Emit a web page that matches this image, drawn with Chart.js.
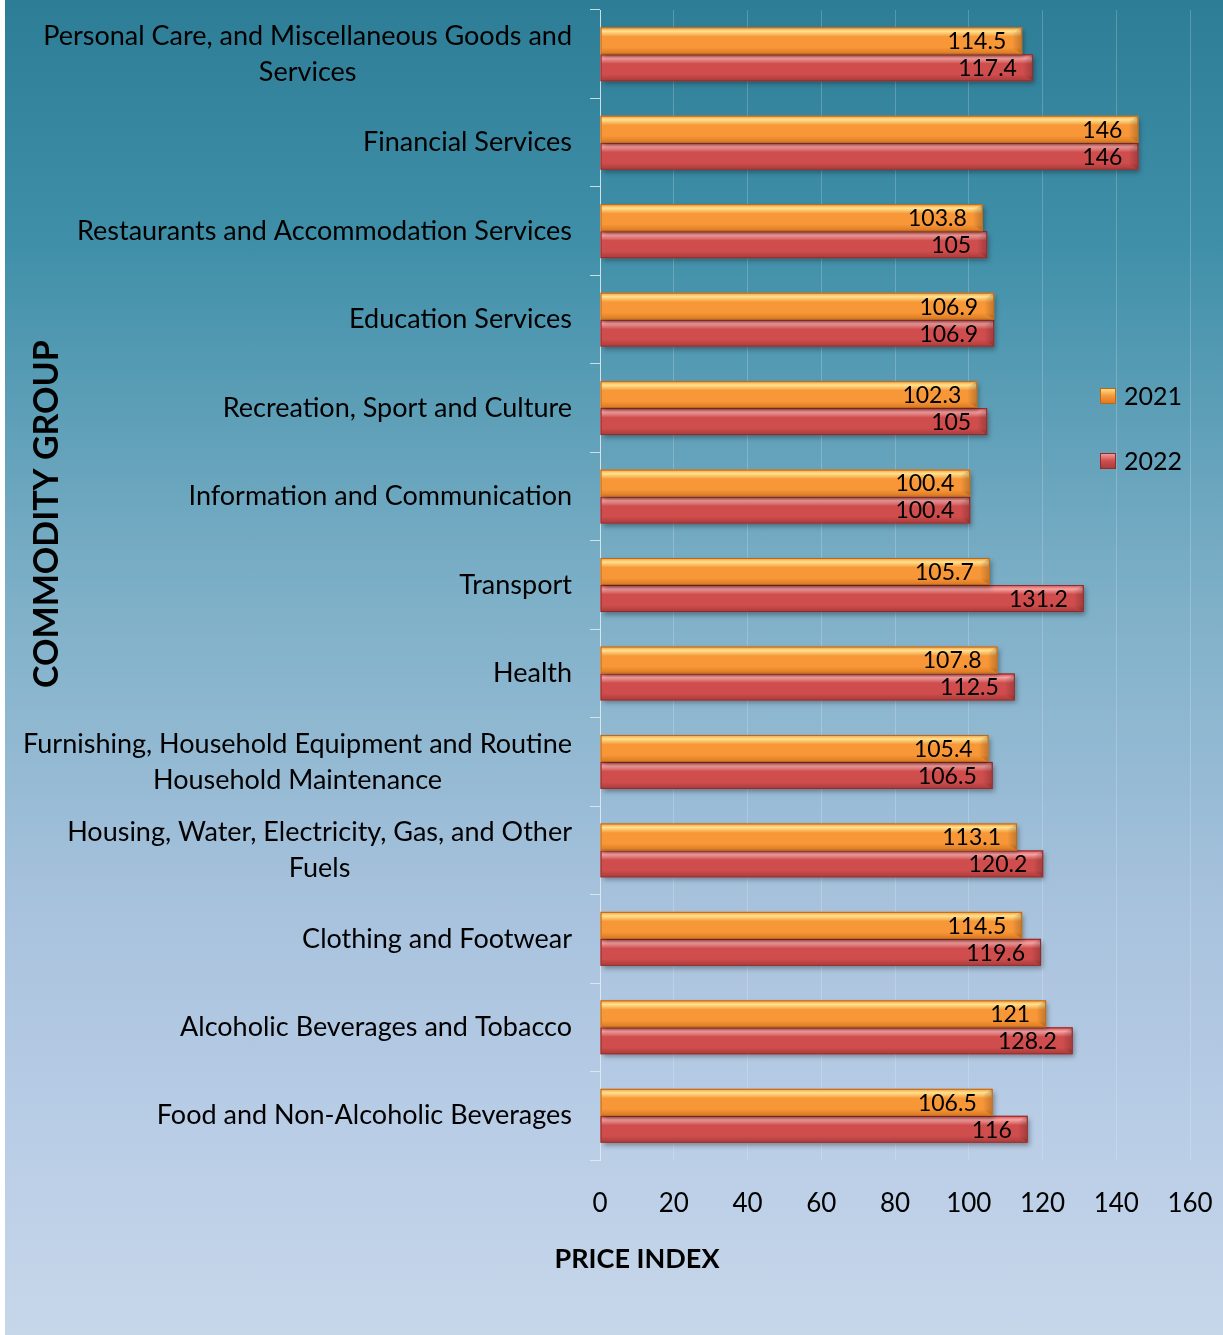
<!DOCTYPE html>
<html>
<head>
<meta charset="utf-8">
<script src="https://cdn.jsdelivr.net/npm/chart.js@4.4.1/dist/chart.umd.min.js"></script>
<style>
  html, body { margin: 0; padding: 0; background: #ffffff; }
  #wrap {
    position: absolute; left: 5px; top: 0; width: 1218px; height: 1335px;
    background: linear-gradient(to bottom, #2e7d97 0%, #3f8fa8 18%, #7eb0c8 45%, #a8c2dd 68%, #b9cde6 85%, #c7d7ea 100%);
  }
</style>
</head>
<body>
<div id="wrap"><canvas id="cpiChart"></canvas></div>
<script>
const categories = [
    ['Personal Care, and Miscellaneous Goods and', 'Services'],
    'Financial Services',
    'Restaurants and Accommodation Services',
    'Education Services',
    'Recreation, Sport and Culture',
    'Information and Communication',
    'Transport',
    'Health',
    ['Furnishing, Household Equipment and Routine', 'Household Maintenance'],
    ['Housing, Water, Electricity, Gas, and Other', 'Fuels'],
    'Clothing and Footwear',
    'Alcoholic Beverages and Tobacco',
    'Food and Non-Alcoholic Beverages'
];
const series2021 = [114.5, 146, 103.8, 106.9, 102.3, 100.4, 105.7, 107.8, 105.4, 113.1, 114.5, 121, 106.5];
const series2022 = [117.4, 146, 105, 106.9, 105, 100.4, 131.2, 112.5, 106.5, 120.2, 119.6, 128.2, 116];
const xTicks = [0, 20, 40, 60, 80, 100, 120, 140, 160];

const FONT = 'Lato, "Open Sans", sans-serif';

const palette = {
    '2021': { base: '#f79738', light: '#ffe38f', dark: '#d9771f', border: '#b8681c' },
    '2022': { base: '#cf4d4d', light: '#f7a3a3', dark: '#a83a3a', border: '#8c2c2c' }
};

// glossy overlay + bevelled end on each bar
const barShine = {
    id: 'barShine',
    beforeDatasetDraw(chart) {
        const ctx = chart.ctx;
        ctx.save();
        ctx.shadowColor = 'rgba(0,0,0,0.35)';
        ctx.shadowBlur = 5;
        ctx.shadowOffsetX = 2;
        ctx.shadowOffsetY = 3;
    },
    afterDatasetDraw(chart, args) {
        const ctx = chart.ctx;
        ctx.restore();
        const ds = chart.data.datasets[args.index];
        const pal = palette[ds.label];
        args.meta.data.forEach(el => {
            const top = el.y - el.height / 2;
            const left = el.base, right = el.x, h = el.height;
            const g = ctx.createLinearGradient(0, top, 0, top + h);
            g.addColorStop(0, pal.base);
            g.addColorStop(0.15, pal.light);
            g.addColorStop(0.35, pal.base);
            g.addColorStop(0.75, pal.base);
            g.addColorStop(1, pal.dark);
            ctx.save();
            ctx.fillStyle = g;
            ctx.fillRect(left + 1, top + 1, right - left - 2, h - 2);
            // bevelled right end
            const cap = 10;
            const gc = ctx.createLinearGradient(right - cap, 0, right, 0);
            gc.addColorStop(0, 'rgba(0,0,0,0)');
            gc.addColorStop(1, 'rgba(0,0,0,0.22)');
            ctx.beginPath();
            ctx.moveTo(right - cap, top + cap * 0.6);
            ctx.lineTo(right - 1, top + 1);
            ctx.lineTo(right - 1, top + h - 1);
            ctx.lineTo(right - cap, top + h - cap * 0.6);
            ctx.closePath();
            ctx.fillStyle = gc;
            ctx.fill();
            ctx.strokeStyle = pal.border;
            ctx.lineWidth = 1;
            ctx.strokeRect(left + 0.5, top + 0.5, right - left - 1, h - 1);
            ctx.restore();
        });
    }
};

// value labels inside the bar ends
const valueLabels = {
    id: 'valueLabels',
    afterDatasetsDraw(chart) {
        const ctx = chart.ctx;
        ctx.save();
        ctx.font = '23px ' + FONT;
        ctx.fillStyle = '#000';
        ctx.textAlign = 'right';
        ctx.textBaseline = 'middle';
        chart.data.datasets.forEach((ds, i) => {
            chart.getDatasetMeta(i).data.forEach((el, j) => {
                ctx.fillText(String(ds.data[j]), el.x - 16, el.y + 1);
            });
        });
        ctx.restore();
    }
};

// category labels: block right-aligned to the axis, lines centred within the block
const categoryLabels = {
    id: 'categoryLabels',
    afterDraw(chart) {
        const ctx = chart.ctx;
        const yScale = chart.scales.y;
        const rightEdge = yScale.right - 28;
        const lineH = 36;
        ctx.save();
        ctx.font = '27px ' + FONT;
        ctx.fillStyle = '#000';
        ctx.textAlign = 'center';
        ctx.textBaseline = 'middle';
        chart.data.labels.forEach((lab, i) => {
            const lines = Array.isArray(lab) ? lab : [lab];
            const w = Math.max(...lines.map(t => ctx.measureText(t).width));
            const cx = rightEdge - w / 2;
            const cy = yScale.getPixelForTick(i);
            lines.forEach((t, k) => {
                ctx.fillText(t, cx, cy + (k - (lines.length - 1) / 2) * lineH);
            });
        });
        ctx.restore();
    }
};

// axis titles and overlaid legend
const titlesLegend = {
    id: 'titlesLegend',
    afterDraw(chart) {
        const ctx = chart.ctx;
        const area = chart.chartArea;
        ctx.save();
        ctx.fillStyle = '#000';
        ctx.textAlign = 'center';
        ctx.textBaseline = 'middle';
        ctx.font = 'bold 34px ' + FONT;
        ctx.translate(42, (area.top + area.bottom) / 2 - 71);
        ctx.rotate(-Math.PI / 2);
        ctx.fillText('COMMODITY GROUP', 0, 0);
        ctx.restore();

        ctx.save();
        ctx.fillStyle = '#000';
        ctx.textAlign = 'center';
        ctx.textBaseline = 'middle';
        ctx.font = 'bold 27px ' + FONT;
        ctx.fillText('PRICE INDEX', 632, area.bottom + 99);
        ctx.restore();

        ctx.save();
        ctx.font = '25px ' + FONT;
        ctx.textBaseline = 'middle';
        ctx.textAlign = 'left';
        chart.data.datasets.forEach((ds, i) => {
            const pal = palette[ds.label];
            const x = 1095, y = 396 + i * 65;
            const g = ctx.createLinearGradient(0, y - 8, 0, y + 8);
            g.addColorStop(0, pal.light);
            g.addColorStop(0.5, pal.base);
            g.addColorStop(1, pal.dark);
            ctx.fillStyle = g;
            ctx.fillRect(x, y - 8, 16, 16);
            ctx.strokeStyle = pal.border;
            ctx.strokeRect(x + 0.5, y - 7.5, 15, 15);
            ctx.fillStyle = '#000';
            ctx.fillText(ds.label, x + 24, y + 1);
        });
        ctx.restore();
    }
};

const data = {
    labels: categories,
    datasets: [{
        label: '2021',
        data: series2021,
        backgroundColor: palette['2021'].base,
        borderWidth: 0,
        barPercentage: 1,
        categoryPercentage: 0.61
    }, {
        label: '2022',
        data: series2022,
        backgroundColor: palette['2022'].base,
        borderWidth: 0,
        barPercentage: 1,
        categoryPercentage: 0.61
    }]
};

const config = {
    type: 'bar',
    data: data,
    options: {
        indexAxis: 'y',
        responsive: true,
        maintainAspectRatio: false,
        animation: false,
        layout: { padding: { top: 10, right: 33, bottom: 0, left: 0 } },
        plugins: {
            legend: { display: false },
            tooltip: { enabled: false }
        },
        scales: {
            x: {
                min: 0,
                max: 160,
                afterBuildTicks: scale => { scale.ticks = xTicks.map(v => ({ value: v })); },
                afterFit: scale => {
                    scale.height = 175;
                    scale.paddingLeft = 0;
                    scale.paddingRight = 0;
                },
                grid: { color: 'rgba(255,255,255,0.2)', drawTicks: false },
                border: { display: false },
                ticks: { color: '#000', padding: 28, font: { size: 26, family: FONT } }
            },
            y: {
                afterFit: scale => {
                    scale.width = 595;
                    scale.paddingTop = 0;
                    scale.paddingBottom = 0;
                },
                grid: { drawOnChartArea: false, drawTicks: true, tickLength: 10, color: 'rgba(225,235,242,0.85)', offset: true },
                border: { color: 'rgba(225,235,242,0.85)', width: 1 },
                ticks: { display: false }
            }
        }
    },
    plugins: [barShine, valueLabels, categoryLabels, titlesLegend]
};

new Chart(document.getElementById('cpiChart'), config);
</script>
</body>
</html>
